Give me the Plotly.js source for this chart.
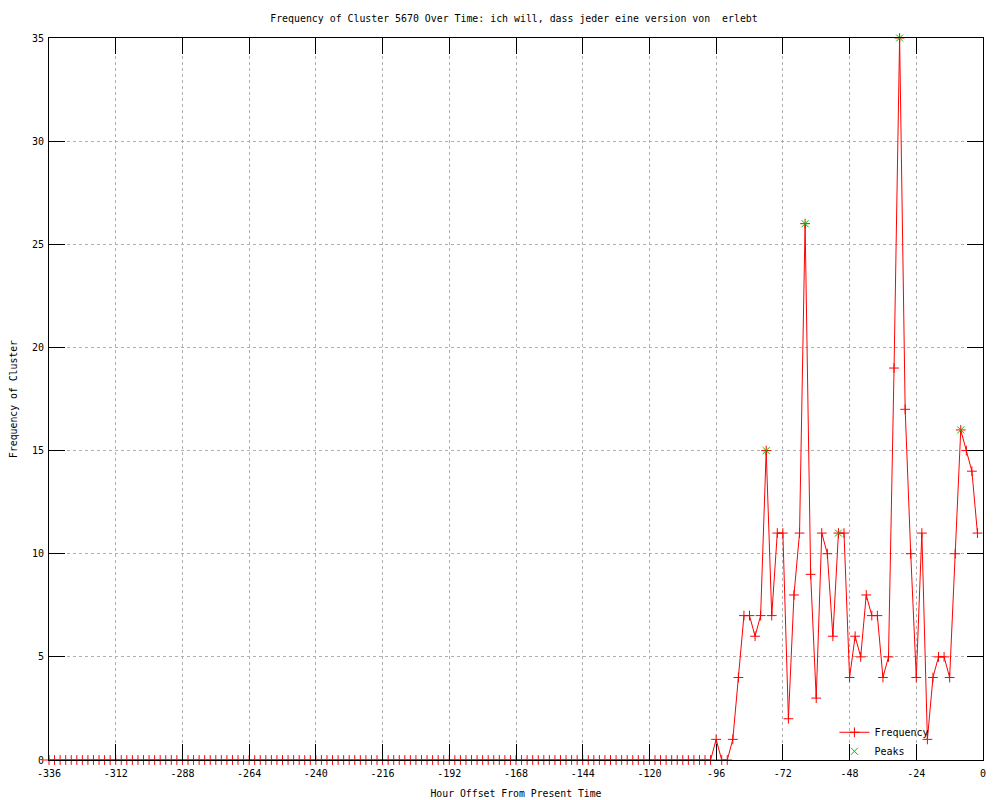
<!DOCTYPE html>
<html>
<head>
<meta charset="utf-8">
<script src="https://cdn.plot.ly/plotly-3.0.1.min.js"></script>
<style>html,body{margin:0;padding:0;background:#fff;}#chart{width:1000px;height:800px;}</style>
</head>
<body>
<div id="chart"></div>
<script>
const hours = [
-336,-334,-332,-330,-328,-326,-324,-322,-320,-318,-316,-314,-312,-310,-308,-306,-304,-302,-300,-298,
-296,-294,-292,-290,-288,-286,-284,-282,-280,-278,-276,-274,-272,-270,-268,-266,-264,-262,-260,-258,
-256,-254,-252,-250,-248,-246,-244,-242,-240,-238,-236,-234,-232,-230,-228,-226,-224,-222,-220,-218,
-216,-214,-212,-210,-208,-206,-204,-202,-200,-198,-196,-194,-192,-190,-188,-186,-184,-182,-180,-178,
-176,-174,-172,-170,-168,-166,-164,-162,-160,-158,-156,-154,-152,-150,-148,-146,-144,-142,-140,-138,
-136,-134,-132,-130,-128,-126,-124,-122,-120,-118,-116,-114,-112,-110,-108,-106,-104,-102,-100,-98,
-96,-94,-92,-90,-88,-86,-84,-82,-80,-78,-76,-74,-72,-70,-68,-66,-64,-62,-60,-58,
-56,-54,-52,-50,-48,-46,-44,-42,-40,-38,-36,-34,-32,-30,-28,-26,-24,-22,-20,-18,
-16,-14,-12,-10,-8,-6,-4,-2
];
const frequency = [
0,0,0,0,0,0,0,0,0,0,0,0,0,0,0,0,0,0,0,0,
0,0,0,0,0,0,0,0,0,0,0,0,0,0,0,0,0,0,0,0,
0,0,0,0,0,0,0,0,0,0,0,0,0,0,0,0,0,0,0,0,
0,0,0,0,0,0,0,0,0,0,0,0,0,0,0,0,0,0,0,0,
0,0,0,0,0,0,0,0,0,0,0,0,0,0,0,0,0,0,0,0,
0,0,0,0,0,0,0,0,0,0,0,0,0,0,0,0,0,0,0,0,
1,0,0,1,4,7,7,6,7,15,7,11,11,2,8,11,26,9,3,11,
10,6,11,11,4,6,5,8,7,7,4,5,19,35,17,10,4,11,1,4,
5,5,4,10,16,15,14,11
];
const peakHours = [-78, -64, -52, -30, -8];
const peakValues = [15, 26, 11, 35, 16];
const xTicks = [-336,-312,-288,-264,-240,-216,-192,-168,-144,-120,-96,-72,-48,-24,0];
const yTicks = [0,5,10,15,20,25,30,35];

const FONT = 'DejaVu Sans Mono, monospace';

const traces = [
  {
    x: hours, y: frequency, name: 'Frequency', type: 'scatter', mode: 'lines+markers',
    line: {color: '#ff0000', width: 1},
    marker: {symbol: 'cross-thin', size: 7, color: '#ff0000', line: {color: '#ff0000', width: 1}},
    cliponaxis: false, hoverinfo: 'skip'
  },
  {
    x: peakHours, y: peakValues, name: 'Peaks', type: 'scatter', mode: 'markers',
    marker: {symbol: 'x-thin', size: 7, color: '#00c000', line: {color: '#00c000', width: 1}},
    cliponaxis: false, hoverinfo: 'skip'
  }
];

const axisCommon = {
  showline: true, linecolor: '#000', linewidth: 1, mirror: 'ticks',
  ticks: 'inside', ticklen: 16, tickcolor: '#000', tickwidth: 1,
  showgrid: true, gridcolor: '#b0b0b0', griddash: 'dot', gridwidth: 1,
  zeroline: false, tickfont: {family: FONT, size: 10, color: '#000'},
  fixedrange: true
};

const layout = {
  width: 1000, height: 800,
  paper_bgcolor: '#fff', plot_bgcolor: '#fff',
  margin: {l: 49, r: 17, t: 38, b: 40, pad: 0},
  font: {family: FONT, size: 10, color: '#000'},
  title: {
    text: 'Frequency of Cluster 5670 Over Time: ich will, dass jeder eine version von \u00A0erlebt',
    font: {family: FONT, size: 9.9, color: '#000'},
    x: 0.514, xanchor: 'center', y: 0.977, yanchor: 'middle'
  },
  xaxis: Object.assign({}, axisCommon, {
    range: [-336, 0], tickmode: 'array', tickvals: xTicks, ticktext: xTicks.map(String),
    ticklabelstandoff: 4,
    title: {text: 'Hour Offset From Present Time', font: {family: FONT, size: 9.8, color: '#000'}, standoff: 12}
  }),
  yaxis: Object.assign({}, axisCommon, {
    range: [0, 35], tickmode: 'array', tickvals: yTicks, ticktext: yTicks.map(String),
    ticklabelstandoff: 2,
    title: {text: 'Frequency of Cluster', font: {family: FONT, size: 9.8, color: '#000'}, standoff: 12}
  }),
  showlegend: true,
  legend: {
    x: 0.948, xanchor: 'right', y: -0.008, yanchor: 'bottom',
    bgcolor: 'rgba(0,0,0,0)', borderwidth: 0,
    font: {family: FONT, size: 10, color: '#000'},
    tracegroupgap: 0, itemwidth: 30
  }
};

Plotly.newPlot('chart', traces, layout, {staticPlot: true, displayModeBar: false});
</script>
</body>
</html>
